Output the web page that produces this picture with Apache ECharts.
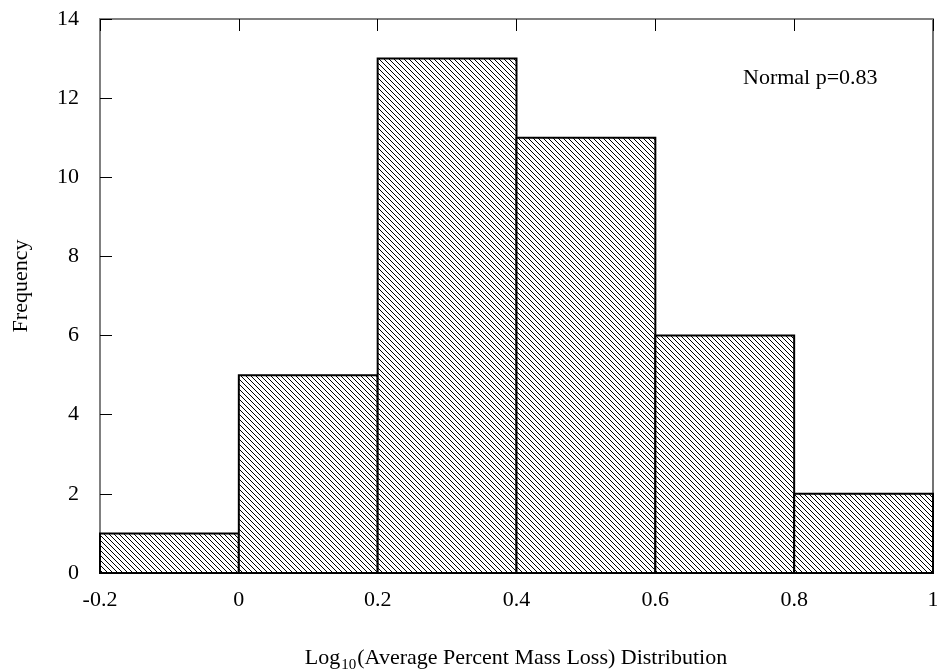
<!DOCTYPE html>
<html><head><meta charset="utf-8">
<script src="https://cdn.jsdelivr.net/npm/echarts@6/dist/echarts.min.js"></script>
<style>html,body{margin:0;padding:0;background:#fff}#c{width:937px;height:672px}</style>
</head><body><div id="c"></div>
<script>
var binStarts = [-0.2, 0.0, 0.2, 0.4, 0.6, 0.8];
var binEnds   = [0.0, 0.2, 0.4, 0.6, 0.8, 1.0];
var frequencies = [1, 5, 13, 11, 6, 2];
var xTicks = ['-0.2','0','0.2','0.4','0.6','0.8','1'];
var yTicks = ['0','2','4','6','8','10','12','14'];
var annotation = 'Normal p=0.83';
var yTitle = 'Frequency';

var pc = document.createElement('canvas');
pc.width = 5; pc.height = 5;
var g = pc.getContext('2d');
g.fillStyle = '#fff'; g.fillRect(0,0,5,5);
g.fillStyle = '#000';
for (var i = 0; i < 5; i++) { g.fillRect(i, i, 1, 1); }

var data = binStarts.map(function(s, i){ return [s, binEnds[i], frequencies[i]]; });
var FONT = '"Liberation Serif","Times New Roman",serif';
var FS = 22;

var chart = echarts.init(document.getElementById('c'));
chart.setOption({
  animation: false,
  grid: {left: 100, right: 4, top: 19, bottom: 99, containLabel: false, outerBoundsMode: 'none'},
  xAxis: [{
    type: 'value', min: -0.2, max: 1, interval: 0.2, position: 'bottom',
    axisLine: {show: true, onZero: false, lineStyle: {color: '#000', width: 2}},
    axisTick: {show: true, inside: true, length: 12, lineStyle: {color: '#000'}},
    axisLabel: {margin: 16, fontFamily: FONT, fontSize: FS, color: '#000', showMinLabel: true, showMaxLabel: true,
      formatter: function(v){ var idx = Math.round((v+0.2)/0.2); return xTicks[idx]; }},
    splitLine: {show: false}
  }, {
    type: 'value', min: -0.2, max: 1, interval: 0.2, position: 'top',
    axisLine: {show: true, onZero: false, lineStyle: {color: '#808080', width: 2}},
    axisTick: {show: true, inside: true, length: 12, lineStyle: {color: '#000'}},
    axisLabel: {show: false}, splitLine: {show: false}
  }],
  yAxis: [{
    type: 'value', min: 0, max: 14, interval: 2, position: 'left',
    axisLine: {show: true, onZero: false, lineStyle: {color: '#808080', width: 2}},
    axisTick: {show: true, inside: true, length: 12, lineStyle: {color: '#000'}},
    axisLabel: {margin: 21, fontFamily: FONT, fontSize: FS, color: '#000',
      formatter: function(v){ return yTicks[Math.round(v/2)]; }},
    splitLine: {show: false}
  }, {
    type: 'value', min: 0, max: 14, interval: 2, position: 'right',
    axisLine: {show: true, onZero: false, lineStyle: {color: '#444', width: 1.5}},
    axisTick: {show: false}, axisLabel: {show: false}, splitLine: {show: false}
  }],
  series: [{
    type: 'custom',
    xAxisIndex: 0, yAxisIndex: 0,
    data: data,
    renderItem: function(params, api){
      var p0 = api.coord([api.value(0), 0]);
      var p1 = api.coord([api.value(1), api.value(2)]);
      return {
        type: 'rect',
        shape: {x: p0[0], y: p1[1], width: p1[0]-p0[0], height: p0[1]-p1[1]},
        style: {fill: {image: pc, repeat: 'repeat'}, stroke: '#000', lineWidth: 2}
      };
    }
  }],
  graphic: [{
    type: 'text', x: 743, y: 78,
    style: {text: annotation, font: FS + 'px ' + FONT, fill: '#000', align: 'left', verticalAlign: 'middle'}
  }, {
    type: 'text', x: 21, y: 286, rotation: Math.PI/2,
    style: {text: yTitle, font: FS + 'px ' + FONT, fill: '#000', align: 'center', verticalAlign: 'middle'}
  }, {
    type: 'text', x: 516, y: 658,
    style: {
      text: '{a|Log}{s|10}{a|(Average Percent Mass Loss) Distribution}',
      align: 'center', verticalAlign: 'middle',
      rich: {
        a: {fontFamily: FONT, fontSize: FS, fill: '#000'},
        s: {fontFamily: FONT, fontSize: 15, fill: '#000', padding: [14, 1, 0, 1]}
      }
    }
  }]
});
</script>
</body></html>
